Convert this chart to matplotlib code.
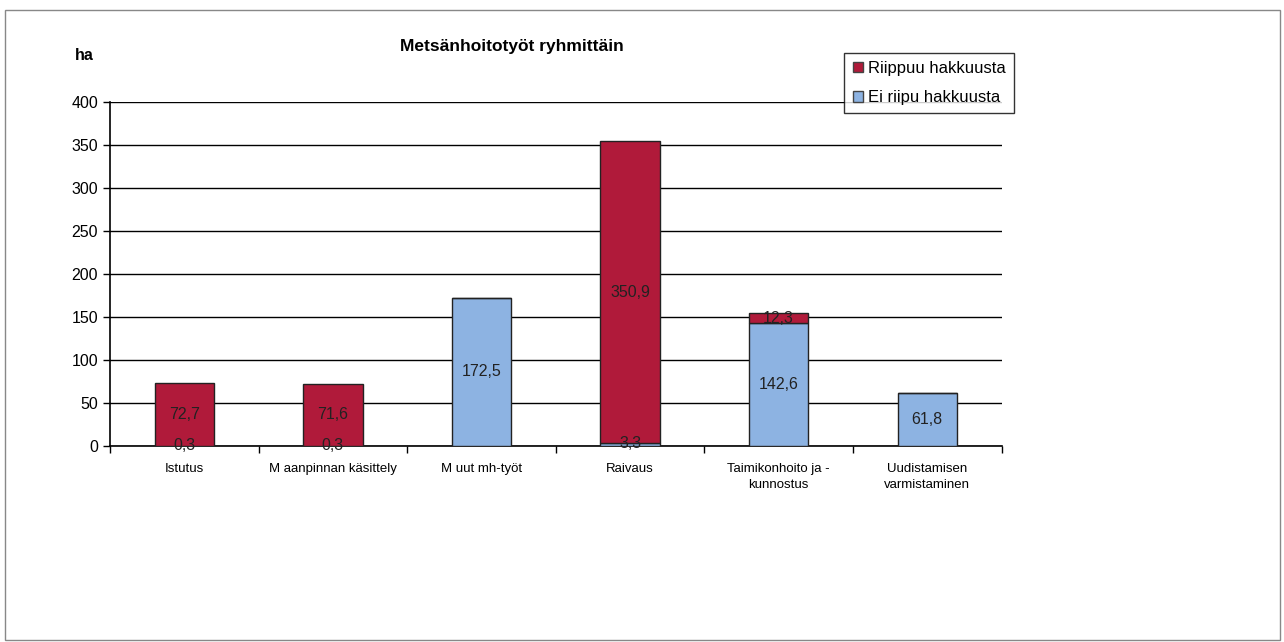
import matplotlib.pyplot as plt
import matplotlib.patches as mpatches
import numpy as np

plt.rcParams['font.family'] = ['Liberation Sans', 'DejaVu Sans']

# data
kategoriat = ['Istutus', 'M aanpinnan käsittely', 'M uut mh-työt', 'Raivaus',
              'Taimikonhoito ja -\nkunnostus', 'Uudistamisen\nvarmistaminen']
ei_riipu = [0.3, 0.3, 172.5, 3.3, 142.6, 61.8]
riippuu = [72.7, 71.6, 0.0, 350.9, 12.3, 0.0]

col_red = '#B01A3A'
col_blue = '#8DB3E2'

fig = plt.figure(figsize=(12.84, 6.42), dpi=100)
ax = fig.add_axes([0.0857, 0.3053, 0.6943, 0.5357])

x = np.arange(len(kategoriat))
w = 0.4
ax.bar(x, ei_riipu, w, color=col_blue, edgecolor='#222222', linewidth=1, zorder=3)
ax.bar(x, riippuu, w, bottom=ei_riipu, color=col_red, edgecolor='#222222', linewidth=1, zorder=3)

# arvot palkkeihin
for i in range(len(x)):
    if ei_riipu[i] > 0:
        ax.text(x[i], ei_riipu[i] / 2 + (1 if ei_riipu[i] < 10 else 0), ('%.1f' % ei_riipu[i]).replace('.', ','),
                ha='center', va='center', fontsize=11.5, color='#222222', zorder=4)
    if riippuu[i] > 0:
        ax.text(x[i], ei_riipu[i] + riippuu[i] / 2, ('%.1f' % riippuu[i]).replace('.', ','),
                ha='center', va='center', fontsize=11.5, color='#222222', zorder=4)

ax.set_xlim(-0.5, len(x) - 0.5)
ax.set_ylim(0, 400)
ax.set_yticks(range(0, 401, 50))
ax.yaxis.grid(True, color='black', linewidth=1)
ax.set_axisbelow(True)
ax.tick_params(axis='y', labelsize=11.5, length=5, direction='out', width=1)
ax.set_xticks(x)
ax.set_xticklabels(kategoriat, fontsize=9.5, linespacing=1.5)
ax.tick_params(axis='x', length=0, pad=12)
ax.set_xticks(np.arange(-0.5, len(x), 1), minor=True)
ax.tick_params(axis='x', which='minor', length=5, width=1)
for s in ['top', 'right']:
    ax.spines[s].set_visible(False)
for s in ['left', 'bottom']:
    ax.spines[s].set_linewidth(1.2)

fig.text(0.399, 0.928, 'Metsänhoitotyöt ryhmittäin', ha='center', va='center',
         fontsize=12.5, fontweight='bold')
fig.text(0.066, 0.913, 'ha', ha='center', va='center', fontsize=11.5, fontweight='bold')

h1 = mpatches.Patch(facecolor=col_red, edgecolor='#444444')
h2 = mpatches.Patch(facecolor=col_blue, edgecolor='#444444')
leg = fig.legend([h1, h2], ['Riippuu hakkuusta', 'Ei riipu hakkuusta'],
                 loc='upper left', bbox_to_anchor=(0.651, 0.931), fontsize=12,
                 frameon=True, fancybox=False, edgecolor='black', handlelength=0.6,
                 handleheight=0.6, handletextpad=0.3, borderpad=0.5, labelspacing=0.85)
leg.get_frame().set_linewidth(1)

# kehys
fig.patches.append(mpatches.Rectangle((0.004, 0.003), 0.993, 0.982, transform=fig.transFigure,
                                      fill=False, edgecolor='#888888', linewidth=1))

fig.savefig('out.png', dpi=100)
